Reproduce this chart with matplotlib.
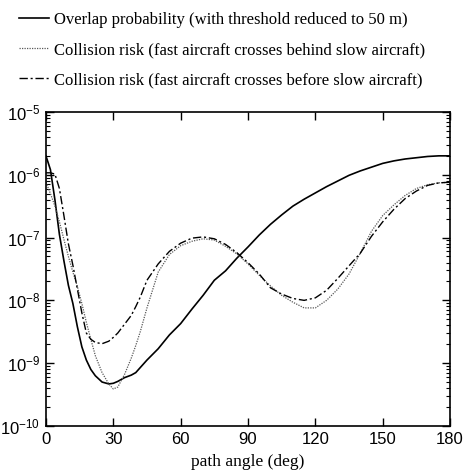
import numpy as np
import matplotlib
matplotlib.use("Agg")
import matplotlib.pyplot as plt
from matplotlib.ticker import LogLocator, FixedLocator, NullFormatter

plt.rcParams['mathtext.fontset'] = 'custom'
plt.rcParams['mathtext.rm'] = 'Liberation Sans'
plt.rcParams['mathtext.it'] = 'Liberation Sans:italic'
plt.rcParams['mathtext.default'] = 'regular'

angle = [0, 2, 4, 6, 8, 10, 12, 14, 16, 18, 20, 22, 25, 28, 30, 32, 35, 38, 40, 42,
         45, 50, 55, 60, 65, 70, 75, 80, 85, 90, 95, 100, 105, 110, 115, 120, 125,
         130, 135, 140, 145, 150, 155, 160, 165, 170, 175, 180]

overlap_log = [-5.70, -5.92, -6.40, -6.95, -7.37, -7.76, -8.05, -8.42, -8.74, -8.95,
               -9.10, -9.20, -9.30, -9.33, -9.32, -9.29, -9.23, -9.19, -9.15, -9.07,
               -8.95, -8.77, -8.55, -8.37, -8.14, -7.92, -7.68, -7.53, -7.33, -7.15,
               -6.96, -6.79, -6.64, -6.50, -6.39, -6.29, -6.19, -6.10, -6.01, -5.94,
               -5.88, -5.82, -5.78, -5.75, -5.73, -5.71, -5.70, -5.70]

behind_log = [-6.12, -6.30, -6.50, -6.75, -7.03, -7.30, -7.55, -7.78, -8.05, -8.35,
              -8.62, -8.88, -9.15, -9.33, -9.41, -9.38, -9.18, -8.92, -8.72, -8.50,
              -8.12, -7.55, -7.27, -7.13, -7.06, -7.02, -7.04, -7.14, -7.26, -7.42,
              -7.60, -7.77, -7.92, -8.03, -8.12, -8.12, -8.00, -7.82, -7.58, -7.25,
              -6.90, -6.65, -6.48, -6.33, -6.22, -6.16, -6.13, -6.12]

before_log = [-5.97, -5.97, -5.99, -6.22, -6.65, -7.10, -7.44, -7.82, -8.20, -8.52,
              -8.62, -8.67, -8.69, -8.65, -8.59, -8.52, -8.38, -8.24, -8.10, -7.95,
              -7.68, -7.42, -7.22, -7.09, -7.01, -6.99, -7.02, -7.11, -7.24, -7.40,
              -7.58, -7.80, -7.90, -7.97, -8.00, -7.96, -7.84, -7.65, -7.45, -7.25,
              -6.98, -6.75, -6.55, -6.38, -6.26, -6.17, -6.13, -6.12]

labels = ["Overlap probability (with threshold reduced to 50 m)",
          "Collision risk (fast aircraft crosses behind slow aircraft)",
          "Collision risk (fast aircraft crosses before slow aircraft)"]

xticks = [0, 30, 60, 90, 120, 150, 180]
xlabel = "path angle (deg)"

overlap = 10.0 ** np.array(overlap_log)
behind = 10.0 ** np.array(behind_log)
before = 10.0 ** np.array(before_log)

fig = plt.figure(figsize=(4.64, 4.71), dpi=100)
ax = fig.add_axes([0.099, 0.0955, 0.871, 0.667])

l1, = ax.plot(angle, overlap, color='black', lw=1.2, ls='-')
l2, = ax.plot(angle, behind, color='0.35', lw=0.9, ls=(0, (1, 1)))
l3, = ax.plot(angle, before, color='black', lw=1.0, ls=(0, (6, 2, 1.5, 2)))

ax.set_yscale('log')
ax.set_xlim(0, 180)
ax.set_ylim(1e-10, 1e-5)
ax.xaxis.set_major_locator(FixedLocator(xticks))
ax.yaxis.set_major_locator(LogLocator(base=10, numticks=10))
ax.yaxis.set_minor_locator(LogLocator(base=10, subs=np.arange(2, 10), numticks=20))
ax.yaxis.set_minor_formatter(NullFormatter())

ax.tick_params(which='both', direction='in', top=True, right=True)
ax.tick_params(which='major', length=6, width=1)
ax.tick_params(which='minor', length=3, width=0.8)
ax.tick_params(axis='x', which='minor', top=False, bottom=False)
ax.tick_params(axis='both', which='major', labelsize=12, pad=4)
for lab in ax.get_xticklabels() + ax.get_yticklabels():
    lab.set_fontfamily('Liberation Sans')
for s in ax.spines.values():
    s.set_linewidth(1.2)

ax.set_xlabel(xlabel, family='Liberation Serif', fontsize=12.5, labelpad=5)

fig.legend([l1, l2, l3], labels, loc='upper left', bbox_to_anchor=(0.02, 0.996),
           frameon=False, prop={'family': 'Liberation Serif', 'size': 12},
           handlelength=1.8, handletextpad=0.3, labelspacing=0.85,
           borderaxespad=0.2)

fig.savefig('out.png', dpi=100)
